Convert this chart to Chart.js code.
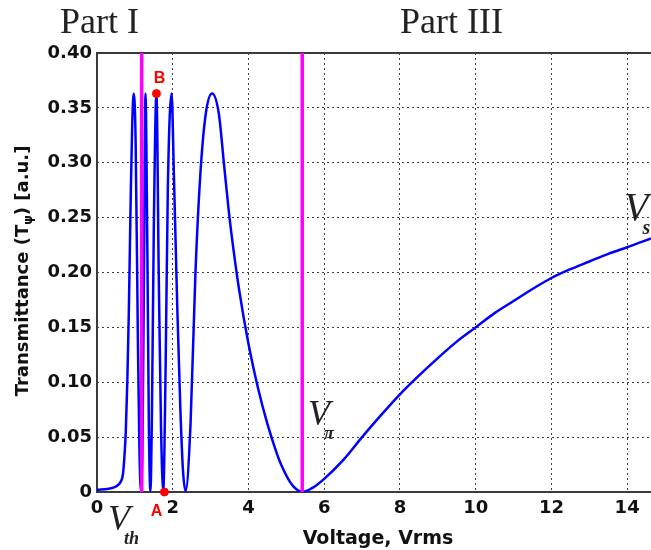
<!DOCTYPE html>
<html>
<head>
<meta charset="utf-8">
<script src="https://cdn.jsdelivr.net/npm/chart.js@4.4.1/dist/chart.umd.min.js"></script>
<style>
  html, body { margin: 0; padding: 0; background: #fff; overflow: hidden; }
  #wrap { width: 651px; height: 550px; }
</style>
</head>
<body>
<div id="wrap"><canvas id="tchart" width="651" height="550"></canvas></div>
<script>
// curve: voltage (Vrms) -> transmittance (a.u.)
const voltage = [0, 0.3, 0.5, 0.62, 0.68, 0.72, 0.76, 0.8, 0.84, 0.89, 0.93, 0.97,
  1.02, 1.08, 1.12, 1.16, 1.2, 1.24, 1.28, 1.33, 1.37, 1.41, 1.45, 1.5, 1.57,
  1.63, 1.69, 1.75, 1.81, 1.87, 1.97, 2.03, 2.12, 2.2, 2.27, 2.34, 2.47, 2.6,
  2.73, 2.87, 3.04, 3.22, 3.35, 3.48, 3.6, 3.75, 4.0, 4.25, 4.5, 4.75, 4.85, 5.1,
  5.25, 5.42, 5.7, 6.0, 6.5, 7.0, 7.5, 8.0, 8.5, 9.0, 9.5, 10.0, 10.5, 11.0,
  11.5, 12.0, 12.5, 13.0, 13.5, 14.0, 14.63];
const transmittance = [0.002, 0.003, 0.005, 0.009, 0.015, 0.03, 0.055, 0.1, 0.163, 0.268, 0.335, 0.363,
  0.32, 0.138, 0.04, 0.001, 0.04, 0.2, 0.363, 0.22, 0.06, 0.001, 0.07, 0.24, 0.363,
  0.2, 0.06, 0.001, 0.108, 0.275, 0.363, 0.29, 0.168, 0.077, 0.02, 0.001, 0.062, 0.2,
  0.29, 0.344, 0.363, 0.344, 0.3, 0.256, 0.222, 0.185, 0.135, 0.095, 0.062, 0.035, 0.026, 0.009,
  0.003, 0, 0.004, 0.012, 0.029, 0.05, 0.07, 0.089, 0.106, 0.122, 0.137, 0.15, 0.163, 0.174,
  0.185, 0.195, 0.203, 0.21, 0.217, 0.223, 0.231];

// magenta vertical markers (V)
const markerLines = [1.18, 5.42];
// red points A and B
const pointNames = ['B', 'A'];
const pointX = [1.57, 1.78];
const pointY = [0.363, 0];

const xTicks = [0, 2, 4, 6, 8, 10, 12, 14];
const yTicks = [0, 0.05, 0.1, 0.15, 0.2, 0.25, 0.3, 0.35, 0.4];

const tickFont = { family: "'DejaVu Sans', sans-serif", weight: 'bold', size: 18 };

const curve = voltage.map((v, i) => ({ x: v, y: transmittance[i] }));
const lineSets = markerLines.map(v => ({
    data: [{ x: v, y: 0 }, { x: v, y: 0.4 }],
    showLine: true,
    borderColor: '#ff00ff',
    borderWidth: 3.5,
    pointRadius: 0,
}));

// texts around the plot (titles, V labels, A/B, axis titles)
const overlay = {
    id: 'overlay',
    beforeDatasetsDraw(chart) {
        const { ctx, chartArea: a } = chart;
        ctx.save();
        ctx.strokeStyle = '#3a3a3a';
        ctx.lineWidth = 2;
        ctx.beginPath();
        ctx.moveTo(a.right + 5, a.top);
        ctx.lineTo(a.left, a.top);
        ctx.lineTo(a.left, a.bottom);
        ctx.lineTo(a.right + 5, a.bottom);
        ctx.stroke();
        ctx.restore();
    },
    afterDraw(chart) {
        const { ctx } = chart;
        const xs = chart.scales.x, ys = chart.scales.y;
        ctx.save();
        ctx.fillStyle = '#222';
        ctx.textBaseline = 'alphabetic';
        ctx.textAlign = 'left';
        ctx.font = "36px 'Liberation Serif', serif";
        ctx.fillText('Part I', 60, 33);
        ctx.fillText('Part III', 400, 33);

        // V labels
        const vLabel = (x, y, sub, size) => {
            ctx.font = `italic ${size}px 'Liberation Serif', serif`;
            ctx.fillText('V', x, y);
            const w = ctx.measureText('V').width;
            ctx.font = `italic bold ${Math.round(size * 0.5)}px 'Liberation Serif', serif`;
            ctx.fillText(sub, x + w - 6, y + 14);
        };
        vLabel(108, 530, 'th', 36);
        vLabel(308, 425, 'π', 36);
        vLabel(624, 220, 's', 40);

        // axis titles
        ctx.fillStyle = '#111';
        ctx.font = "bold 19px 'DejaVu Sans', sans-serif";
        ctx.textAlign = 'center';
        ctx.fillText('Voltage, Vrms', 378, 544);

        ctx.save();
        ctx.translate(23, 271);
        ctx.rotate(-Math.PI / 2);
        const big = "bold 18px 'DejaVu Sans', sans-serif";
        const small = "bold 12px 'DejaVu Sans', sans-serif";
        const p1 = 'Transmittance (T', p2 = 'ψ', p3 = ') [a.u.]';
        ctx.textAlign = 'left';
        ctx.textBaseline = 'middle';
        ctx.font = big;
        const w1 = ctx.measureText(p1).width, w3 = ctx.measureText(p3).width;
        ctx.font = small;
        const w2 = ctx.measureText(p2).width;
        const x0 = -(w1 + w2 + w3) / 2;
        ctx.font = big; ctx.fillText(p1, x0, 0);
        ctx.font = small; ctx.fillText(p2, x0 + w1, 6);
        ctx.font = big; ctx.fillText(p3, x0 + w1 + w2, 0);
        ctx.restore();

        // A / B letters
        ctx.fillStyle = '#ff0000';
        ctx.font = "bold 16px 'Liberation Sans', sans-serif";
        ctx.textAlign = 'center';
        ctx.textBaseline = 'middle';
        pointNames.forEach((n, i) => {
            const px = xs.getPixelForValue(pointX[i]);
            const py = ys.getPixelForValue(pointY[i]);
            if (pointY[i] > 0) ctx.fillText(n, px + 3, py - 15);
            else ctx.fillText(n, px - 8, py + 20);
        });
        ctx.restore();
    }
};

const ctx = document.getElementById('tchart').getContext('2d');
const tChart = new Chart(ctx, {
    type: 'scatter',
    data: {
        datasets: [
            {
                data: pointX.map((v, i) => ({ x: v, y: pointY[i] })),
                pointRadius: 4,
                backgroundColor: '#ff0000',
                borderColor: '#ff0000',
                clip: false,
            },
            ...lineSets,
            {
                data: curve,
                showLine: true,
                borderColor: '#0000ff',
                borderWidth: 2.5,
                pointRadius: 0,
                cubicInterpolationMode: 'monotone',
            }
        ]
    },
    options: {
        responsive: false,
        animation: false,
        layout: { autoPadding: false, padding: { top: 53, left: 0, right: 0, bottom: 0 } },
        plugins: { legend: { display: false }, tooltip: { enabled: false } },
        scales: {
            x: {
                type: 'linear',
                min: 0,
                max: 14.63,
                afterBuildTicks: s => { s.ticks = xTicks.map(v => ({ value: v })); },
                afterFit: s => { s.height = 58; s.paddingRight = 0; s.paddingLeft = 0; },
                ticks: { font: tickFont, color: '#111', padding: 6, maxRotation: 0, autoSkip: false,
                    callback: v => String(v) },
                grid: { color: 'rgba(0,0,0,0.75)', lineWidth: 1, drawTicks: false },
                border: { display: false, dash: [2, 3] },
            },
            y: {
                min: 0,
                max: 0.4,
                afterBuildTicks: s => { s.ticks = yTicks.map(v => ({ value: v })); },
                afterFit: s => { s.width = 97; },
                ticks: { font: tickFont, color: '#111', padding: 5,
                    callback: v => v === 0 ? '0' : v.toFixed(2) },
                grid: { color: 'rgba(0,0,0,0.75)', lineWidth: 1, drawTicks: false },
                border: { display: false, dash: [2, 3] },
            }
        }
    },
    plugins: [overlay]
});
</script>
</body>
</html>
